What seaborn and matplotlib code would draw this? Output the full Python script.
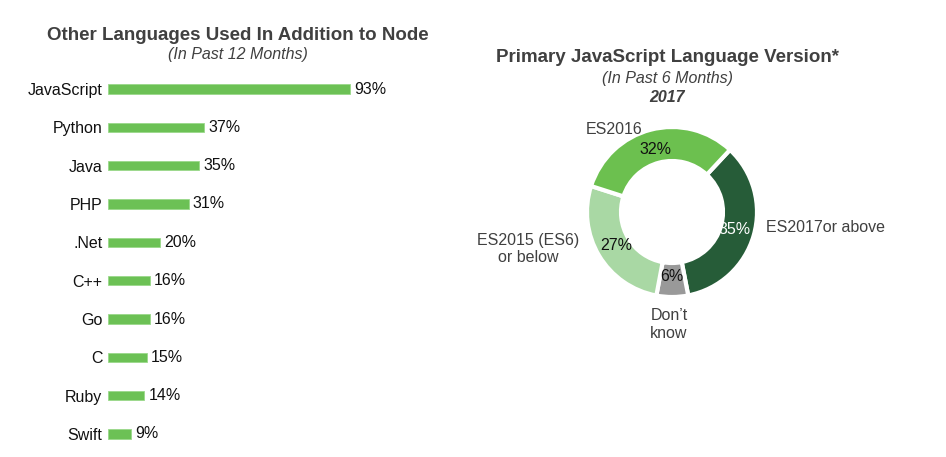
import matplotlib
matplotlib.use("Agg")
import matplotlib.pyplot as plt
import seaborn as sns
import pandas as pd

# ---- data ----
languages = ["JavaScript", "Python", "Java", "PHP", ".Net", "C++", "Go", "C", "Ruby", "Swift"]
lang_pct = [93, 37, 35, 31, 20, 16, 16, 15, 14, 9]

versions = ["ES2017or above", "Don\u2019t\nknow", "ES2015 (ES6)\nor below", "ES2016"]
version_pct = [35, 6, 27, 32]

sns.set_theme(style="white")
plt.rcParams["font.family"] = ["Liberation Sans", "DejaVu Sans"]

W, H = 946, 457
fig = plt.figure(figsize=(W / 100, H / 100), dpi=100)
fig.patch.set_facecolor("white")

def fx(px):
    return px / W

def fy(py):
    return 1 - py / H

LS = 11.5
TS = 13.5

# ---- left: bar chart ----
row_top, row_bot = 89, 434
sp = (row_bot - row_top) / 9
ax = fig.add_axes([fx(108), fy(row_bot + sp / 2), 260 / W, (row_bot - row_top + sp) / H])
df = pd.DataFrame({"lang": languages, "pct": lang_pct})
sns.barplot(data=df, x="pct", y="lang", orient="h", color="#6CC155",
            saturation=1, width=0.24, ax=ax, edgecolor="#9AD98A", linewidth=0.6)
ax.set_xlim(0, 100)
ax.set_ylim(len(languages) - 0.5, -0.5)
ax.set_xlabel("")
ax.set_ylabel("")
ax.set_xticks([])
sns.despine(ax=ax, left=True, bottom=True)
ax.tick_params(axis="y", length=0, pad=4, labelsize=LS, labelcolor="#111111")
for c in ax.containers:
    ax.bar_label(c, labels=[f"{v}%" for v in lang_pct], padding=3,
                 fontsize=LS, color="#111111")

fig.text(fx(238), fy(35), "Other Languages Used In Addition to Node",
         ha="center", va="center", fontsize=TS, fontweight="bold", color="#404040")
fig.text(fx(238), fy(55), "(In Past 12 Months)", ha="center", va="center",
         fontsize=LS, style="italic", color="#404040")

# ---- right: donut ----
cx, cy, R = 672, 212, 85
pax = fig.add_axes([fx(cx - R), fy(cy + R), 2 * R / W, 2 * R / H])
colors = ["#265C38", "#999999", "#A9D8A4", "#6CC04F"]
wedges, _, autotexts = pax.pie(
    version_pct, colors=colors, startangle=47, counterclock=False,
    autopct="%d%%", pctdistance=0.76,
    wedgeprops=dict(width=0.40, edgecolor="white", linewidth=3),
    textprops=dict(fontsize=LS, color="#111111"))
autotexts[0].set_color("white")
pax.set_xlim(-1, 1)
pax.set_ylim(-1, 1)
pax.set_aspect("equal")
pax.axis("off")

def to_data(px, py):
    return (px - cx) / R, -(py - cy) / R

lab_pos = [(766, 227, "left"), (669, 325, "center"), (528, 249, "center"), (614, 129, "center")]
for lab, (px, py, ha) in zip(versions, lab_pos):
    x, y = to_data(px, py)
    pax.text(x, y, lab, ha=ha, va="center", fontsize=LS, color="#404040",
             linespacing=1.25, clip_on=False)

fig.text(fx(667), fy(57), "Primary JavaScript Language Version*",
         ha="center", va="center", fontsize=TS, fontweight="bold", color="#404040")
fig.text(fx(667), fy(78), "(In Past 6 Months)", ha="center", va="center",
         fontsize=LS, style="italic", color="#404040")
fig.text(fx(667), fy(97), "2017", ha="center", va="center",
         fontsize=LS, style="italic", fontweight="bold", color="#404040")

fig.savefig("out.png", dpi=100, facecolor="white")
